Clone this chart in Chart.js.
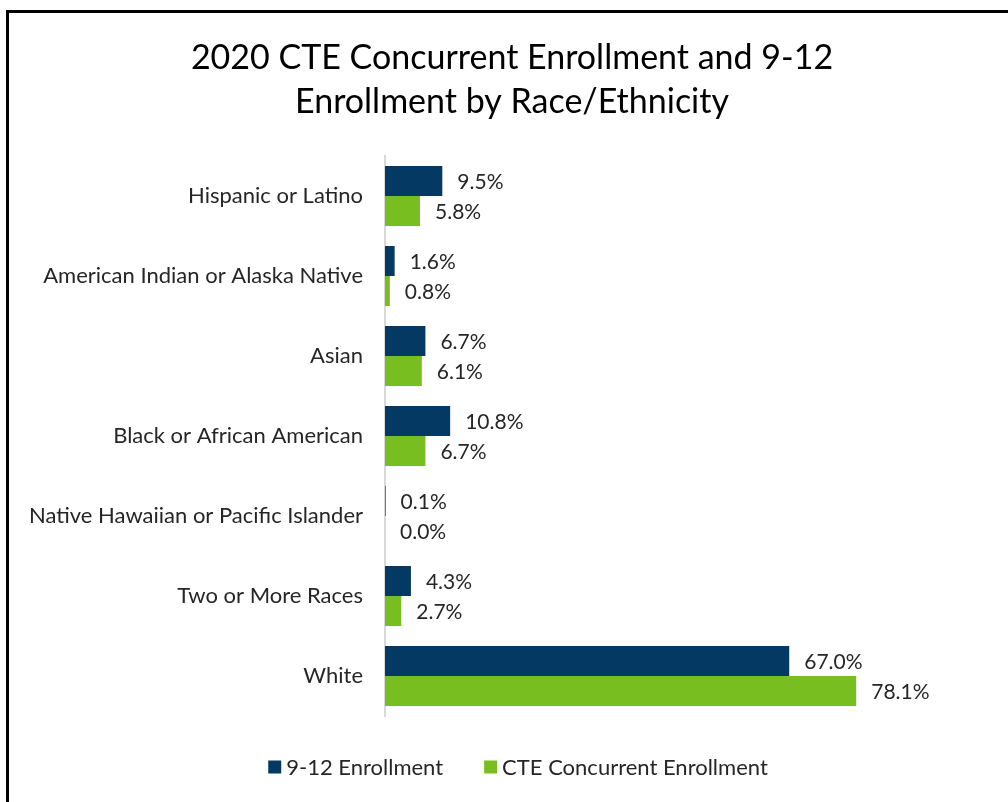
<!DOCTYPE html>
<html>
<head>
<meta charset="utf-8">
<script src="https://cdn.jsdelivr.net/npm/chart.js@4"></script>
<style>
  html, body { margin: 0; padding: 0; background: #fff; }
  #wrap { width: 1008px; height: 802px; position: relative; }
</style>
</head>
<body>
<div id="wrap"><canvas id="myChart" width="1008" height="802"></canvas></div>
<script>
var categories = ['Hispanic or Latino', 'American Indian or Alaska Native', 'Asian',
  'Black or African American', 'Native Hawaiian or Pacific Islander', 'Two or More Races', 'White'];
var enroll912 = [9.5, 1.6, 6.7, 10.8, 0.1, 4.3, 67.0];
var cteConcurrent = [5.8, 0.8, 6.1, 6.7, 0.0, 2.7, 78.1];
var titleLines = ['2020 CTE Concurrent Enrollment and 9-12', 'Enrollment by Race/Ethnicity'];

var FONT = 'Lato, "Liberation Sans", sans-serif';
var TEXT = '#262626';

// white page with the cut-off frame line at top and left, plus the two-line title
var framePlugin = {
  id: 'frame',
  beforeDraw: function (chart) {
    var c = chart.ctx;
    c.save();
    c.fillStyle = '#fff';
    c.fillRect(0, 0, chart.width, chart.height);
    c.fillStyle = '#000';
    c.fillRect(6, 10, chart.width, 3);
    c.fillRect(6, 10, 3, chart.height);
    c.font = '34px ' + FONT;
    c.textAlign = 'center';
    c.textBaseline = 'middle';
    c.fillText(titleLines[0], 512, 58);
    c.fillText(titleLines[1], 512, 102);
    c.restore();
  }
};

// value labels to the right of each bar
var valueLabels = {
  id: 'valueLabels',
  afterDatasetsDraw: function (chart) {
    var c = chart.ctx;
    c.save();
    c.font = '21px ' + FONT;
    c.fillStyle = TEXT;
    c.textAlign = 'left';
    c.textBaseline = 'middle';
    chart.data.datasets.forEach(function (ds, i) {
      chart.getDatasetMeta(i).data.forEach(function (bar, j) {
        c.fillText(ds.data[j].toFixed(1) + '%', bar.x + 15, bar.y + 1);
      });
    });
    c.restore();
  }
};

// legend drawn compactly (small gap between swatch and text), centred under the plot
var bottomLegend = {
  id: 'bottomLegend',
  afterDraw: function (chart) {
    var c = chart.ctx;
    var box = 13, gapText = 5, gapItem = 41, y = 767;
    c.save();
    c.font = '22px ' + FONT;
    c.textBaseline = 'middle';
    c.textAlign = 'left';
    var items = chart.data.datasets.map(function (ds) {
      return { label: ds.label, color: ds.backgroundColor, w: c.measureText(ds.label).width };
    });
    var total = items.reduce(function (s, it) { return s + box + gapText + it.w; }, 0) + gapItem * (items.length - 1);
    var x = 518 - total / 2;
    items.forEach(function (it) {
      c.fillStyle = it.color;
      c.fillRect(x, y - box / 2, box, box);
      c.fillStyle = TEXT;
      c.fillText(it.label, x + box + gapText, y + 1);
      x += box + gapText + it.w + gapItem;
    });
    c.restore();
  }
};

var ctx = document.getElementById('myChart').getContext('2d');
var myChart = new Chart(ctx, {
  type: 'bar',
  data: {
    labels: categories,
    datasets: [{
      label: '9-12 Enrollment',
      data: enroll912,
      backgroundColor: '#033963'
    }, {
      label: 'CTE Concurrent Enrollment',
      data: cteConcurrent,
      backgroundColor: '#78BE21'
    }]
  },
  options: {
    indexAxis: 'y',
    responsive: false,
    animation: false,
    categoryPercentage: 0.75,
    barPercentage: 1.0,
    layout: { padding: { left: 10, right: 80, top: 156, bottom: 86 } },
    plugins: {
      title: { display: false },
      legend: { display: false },
      tooltip: { enabled: false }
    },
    scales: {
      x: {
        display: false,
        min: 0,
        max: 90
      },
      y: {
        grid: { display: false, drawTicks: false },
        border: { display: true, color: '#d9d9d9', width: 2 },
        ticks: {
          color: TEXT,
          font: { family: FONT, size: 22 },
          padding: 22
        },
        afterFit: function (scale) { scale.width = 375; }
      }
    }
  },
  plugins: [framePlugin, valueLabels, bottomLegend]
});
</script>
</body>
</html>
